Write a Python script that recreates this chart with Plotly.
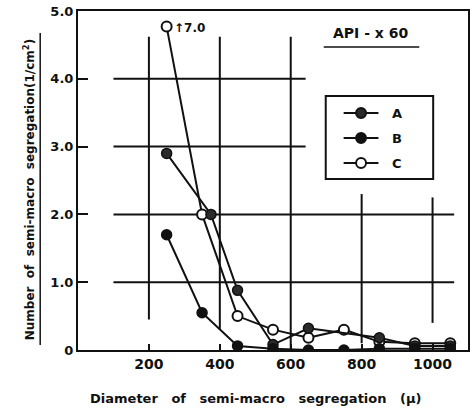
import plotly.graph_objects as go

# Data (diameter in microns, number per cm^2)
x_A = [250, 375, 450, 550, 650, 850, 950, 1050]
y_A = [2.9, 2.0, 0.88, 0.08, 0.32, 0.18, 0.06, 0.06]

x_B = [250, 350, 450, 550, 650, 750, 850, 950, 1050]
y_B = [1.7, 0.55, 0.06, 0.02, 0.0, 0.0, 0.02, 0.02, 0.02]

x_C = [250, 350, 450, 550, 650, 750, 850, 950, 1050]
y_C = [4.77, 2.0, 0.5, 0.3, 0.18, 0.3, 0.12, 0.1, 0.1]

x_ticks = [200, 400, 600, 800, 1000]
y_ticks = [0, 1, 2, 3, 4, 5]
y_ticklabels = ["0", "1.0", "2.0", "3.0", "4.0", "5.0"]

FONT = "DejaVu Sans"
BLK = "#111111"
L, R, T, B = 78, 2, 11, 58
PW, PH = 472 - L - R, 408 - T - B


def px(xp):
    return (xp - L) / PW


def py(yp):
    return (408 - B - yp) / PH


fig = go.Figure()

# Stylised grid lines (drawn as shapes behind data)
grid = [
    (100, 1, 1061, 1), (100, 2, 1061, 2),
    (100, 3, 642, 3), (100, 4, 642, 4),
    (200, 0.45, 200, 4.62), (400, 0.3, 400, 4.62), (600, 0.0, 600, 4.62),
    (800, 0.1, 800, 2.3), (1000, 0.4, 1000, 2.25),
]
for x0, y0, x1, y1 in grid:
    fig.add_shape(type="line", x0=x0, y0=y0, x1=x1, y1=y1, xref="x", yref="y",
                  line=dict(color=BLK, width=2), layer="below")

common_line = dict(color=BLK, width=2)
fig.add_trace(go.Scatter(x=x_C, y=y_C, mode="lines+markers", name="C",
                         line=common_line,
                         marker=dict(symbol="circle", size=10, color="white",
                                     line=dict(color=BLK, width=2))))
fig.add_trace(go.Scatter(x=x_A, y=y_A, mode="lines+markers", name="A",
                         line=common_line,
                         marker=dict(symbol="circle", size=10, color="#2a2a2a",
                                     line=dict(color=BLK, width=1.5))))
fig.add_trace(go.Scatter(x=x_B, y=y_B, mode="lines+markers", name="B",
                         line=common_line,
                         marker=dict(symbol="circle", size=10, color=BLK,
                                     line=dict(color=BLK, width=1.5))))

# Legend box drawn manually (paper coords)
fig.add_shape(type="rect", xref="paper", yref="paper",
              x0=px(327), x1=px(435), y0=py(179), y1=py(96),
              line=dict(color=BLK, width=2), fillcolor="white")
for name, yy, fill in [("A", 113, "#2a2a2a"), ("B", 138, BLK), ("C", 163, "white")]:
    yp = py(yy)
    fig.add_shape(type="line", xref="paper", yref="paper",
                  x0=px(345), x1=px(380), y0=yp, y1=yp,
                  line=dict(color=BLK, width=2))
    fig.add_shape(type="circle", xref="paper", yref="paper",
                  x0=px(357.5), x1=px(367.5),
                  y0=yp - 5 / PH, y1=yp + 5 / PH,
                  line=dict(color=BLK, width=2), fillcolor=fill)
    fig.add_annotation(xref="paper", yref="paper", x=px(399), y=yp,
                       xanchor="center", yanchor="middle",
                       text="<b>%s</b>" % name, showarrow=False,
                       font=dict(family=FONT, size=13, color=BLK))

# Title "API - x 60" underlined
fig.add_annotation(xref="paper", yref="paper", x=px(372), y=py(33),
                   xanchor="center", yanchor="middle",
                   text="<b>API&nbsp;-&nbsp;x&nbsp;60</b>", showarrow=False,
                   font=dict(family=FONT, size=14, color=BLK))
fig.add_shape(type="line", xref="paper", yref="paper",
              x0=px(325), x1=px(421), y0=py(47), y1=py(47),
              line=dict(color=BLK, width=1.5))

# Off-scale marker annotation
fig.add_annotation(x=x_C[0], y=y_C[0], text="<b>↑7.0</b>", showarrow=False,
                   xanchor="left", yanchor="middle", xshift=5, yshift=-1,
                   font=dict(family=FONT, size=12, color=BLK))

# Y-axis title with vertical rule
fig.add_annotation(xref="paper", yref="paper", x=px(29), y=py(190),
                   xanchor="center", yanchor="middle",
                   text="<b>Number&nbsp;&nbsp;of&nbsp;&nbsp;semi-macro&nbsp;&nbsp;segregation(1/cm<sup>2</sup>)</b>",
                   textangle=-90, showarrow=False,
                   font=dict(family=FONT, size=12, color=BLK))
fig.add_shape(type="line", xref="paper", yref="paper",
              x0=px(40), x1=px(40), y0=py(345), y1=py(33),
              line=dict(color=BLK, width=1.5))

fig.add_annotation(xref="paper", yref="paper", x=px(257), y=py(398),
                   xanchor="center", yanchor="middle",
                   text="<b>Diameter&nbsp;&nbsp;&nbsp;of&nbsp;&nbsp;&nbsp;semi-macro&nbsp;&nbsp;&nbsp;segregation&nbsp;&nbsp;&nbsp;(μ)</b>",
                   showarrow=False, font=dict(family=FONT, size=13, color=BLK))

fig.update_layout(
    width=472, height=408,
    margin=dict(l=L, r=R, t=T, b=B),
    paper_bgcolor="white", plot_bgcolor="white",
    showlegend=False,
    font=dict(family=FONT, size=13, color=BLK),
)
fig.update_xaxes(range=[0, 1100], tickvals=x_ticks,
                 ticktext=["<b>%d</b>" % v for v in x_ticks],
                 tickfont=dict(size=14),
                 showgrid=False, zeroline=False,
                 showline=True, linecolor=BLK, linewidth=2, mirror=True,
                 ticks="inside", ticklen=6, tickwidth=2, tickcolor=BLK)
fig.update_yaxes(range=[0, 5], tickvals=y_ticks,
                 ticktext=["<b>%s</b>" % t for t in y_ticklabels],
                 tickfont=dict(size=13),
                 showgrid=False, zeroline=False,
                 showline=True, linecolor=BLK, linewidth=2, mirror=True,
                 ticks="inside", ticklen=10, tickwidth=2, tickcolor=BLK)

fig.write_html("out.html", config={"displayModeBar": False},
               post_script="document.body.style.margin='0';")
